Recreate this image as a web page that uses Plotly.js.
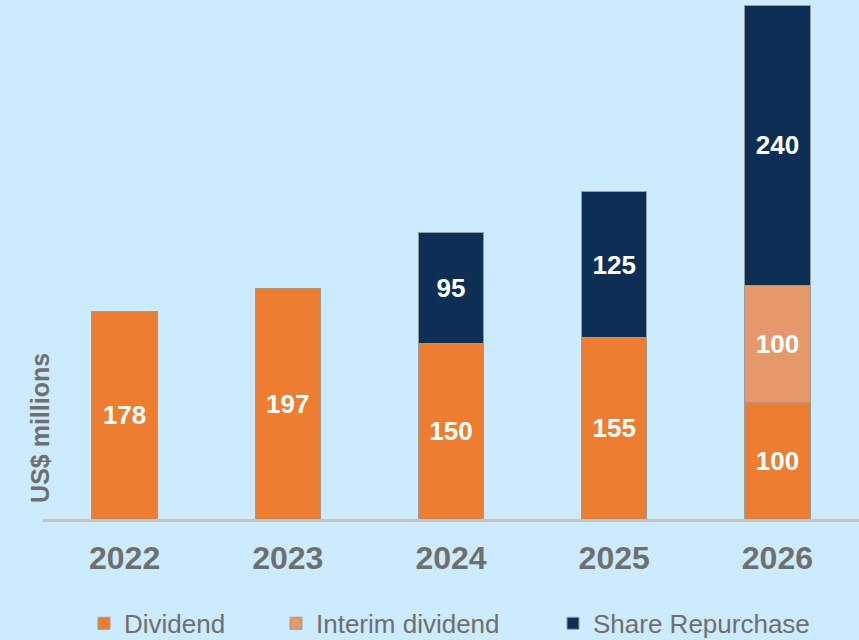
<!DOCTYPE html>
<html>
<head>
<meta charset="utf-8">
<script src="https://cdn.plot.ly/plotly-3.0.1.min.js"></script>
<style>html,body{margin:0;padding:0;background:#CCEBFD;}</style>
</head>
<body>
<div id="chart" style="width:859px;height:640px;"></div>
<script>
const years = ['2022', '2023', '2024', '2025', '2026'];
const dividend = [178, 197, 150, 155, 100];
const interim = [null, null, null, null, 100];
const repurchase = [null, null, 95, 125, 240];

const grey = '#6f6f6f';
const common = {
  type: 'bar',
  x: years,
  width: 0.4,
  textposition: 'inside',
  insidetextanchor: 'middle',
  textangle: 0,
  constraintext: 'none',
  texttemplate: '<b>%{y}</b>',
  textfont: {color: '#ffffff', size: 26, family: 'Liberation Sans, Arial, sans-serif'},
  hoverinfo: 'skip'
};

const traces = [
  Object.assign({}, common, {name: 'Dividend', y: dividend, legend: 'legend',
    marker: {color: '#ED7D31', line: {color: '#9b9b9b', width: 1}}}),
  Object.assign({}, common, {name: 'Interim dividend', y: interim, legend: 'legend2',
    marker: {color: '#E5996A', line: {color: '#9b9b9b', width: 1}}}),
  Object.assign({}, common, {name: 'Share Repurchase', y: repurchase, legend: 'legend3',
    marker: {color: '#0E2F55', line: {color: '#9b9b9b', width: 1}}})
];

const legFont = {size: 26, color: grey, family: 'Liberation Sans, Arial, sans-serif'};
const legBase = {orientation: 'h', font: legFont, bgcolor: 'rgba(0,0,0,0)', xref: 'container', yref: 'container', y: 0.026, yanchor: 'middle', xanchor: 'left', itemwidth: 30};

const layout = {
  width: 859, height: 640,
  paper_bgcolor: '#CCEBFD', plot_bgcolor: '#CCEBFD',
  margin: {l: 43, r: 0, t: 0, b: 121, autoexpand: false},
  barmode: 'stack',
  showlegend: true,
  font: {family: 'Liberation Sans, Arial, sans-serif', color: grey},
  xaxis: {
    type: 'category',
    showgrid: false, zeroline: false,
    showline: true, linecolor: '#c4c4c4', linewidth: 3,
    ticks: '',
    tickfont: {size: 32, color: grey, family: 'Liberation Sans, Arial, sans-serif', weight: 'bold'},
    ticklabelstandoff: 9
  },
  yaxis: {
    range: [0, 444.3], visible: false, showgrid: false, zeroline: false, fixedrange: true
  },
  legend: Object.assign({}, legBase, {x: 84 / 859}),
  legend2: Object.assign({}, legBase, {x: 276 / 859}),
  legend3: Object.assign({}, legBase, {x: 553 / 859}),
  annotations: [{
    text: '<b>US$ millions</b>', textangle: -90, showarrow: false,
    xref: 'paper', yref: 'paper', x: -0.004, y: 0.175, xanchor: 'center', yanchor: 'middle',
    font: {size: 25, color: grey, family: 'Liberation Sans, Arial, sans-serif'}
  }]
};

Plotly.newPlot('chart', traces, layout, {displayModeBar: false, staticPlot: true});
</script>
</body>
</html>
